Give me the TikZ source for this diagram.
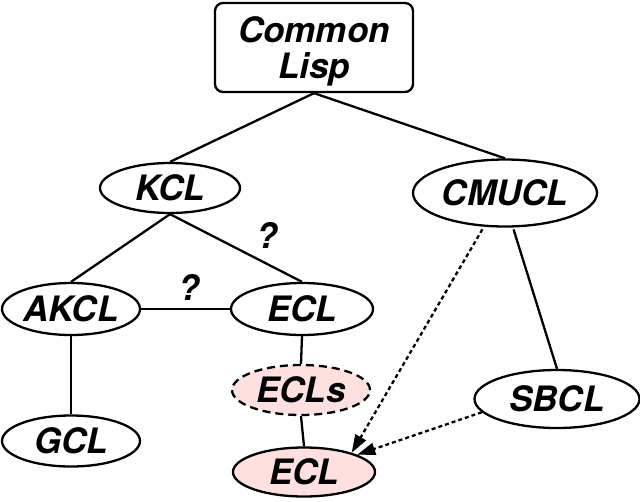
\documentclass[tikz,border=0pt]{standalone}
\usepackage{fontspec}
\setmainfont{TeX Gyre Heros}
\usetikzlibrary{arrows.meta,shapes.geometric}
\definecolor{pinkfill}{RGB}{255,224,224}
\tikzset{
  lbl/.style={font=\fontsize{35}{36}\selectfont\bfseries\itshape},
  ell/.style={lbl,draw,ellipse,line width=2.3pt,inner sep=0pt},
  ecltwo/.style={ell,fill=pinkfill},
  conn/.style={line width=2.3pt},
  dep/.style={line width=2.3pt,dash pattern=on 4pt off 3pt,-{Triangle[length=18pt,width=12pt]}},
  qm/.style={lbl,inner sep=0pt}
}
\begin{document}
\begin{tikzpicture}[x=1pt,y=-1pt]
\useasboundingbox (0,0) rectangle (640,501);
\node[lbl,draw,line width=2.3pt,rounded corners=8pt,minimum width=198pt,minimum height=89pt,align=center,inner sep=0pt,text depth=0pt] (cl) at (314,47.5) {Common\\Lisp};
\node[ell,minimum width=140pt,minimum height=50pt] (kcl) at (170,188) {KCL};
\node[ell,minimum width=184pt,minimum height=67pt] (cmucl) at (505,193) {CMUCL};
\node[ell,minimum width=138pt,minimum height=52pt] (akcl) at (71,309) {AKCL};
\node[ell,minimum width=142pt,minimum height=52pt] (ecl) at (302,309) {ECL};
\node[ell,fill=pinkfill,dash pattern=on 8pt off 5pt,minimum width=138pt,minimum height=50pt] (ecls) at (301,390) {ECLs};
\node[ell,minimum width=138pt,minimum height=51pt] (gcl) at (71,441) {GCL};
\node[ecltwo,minimum width=142pt,minimum height=49pt] (ecl2) at (304,472) {ECL};
\node[ell,minimum width=165pt,minimum height=58pt] (sbcl) at (557,399) {SBCL};
\node[qm] (q1) at (267,235) {?};
\node[qm] (q2) at (189,287) {?};
\draw[conn] (cl.south) -- (kcl.north);
\draw[conn] (cl.south) -- (cmucl.north);
\draw[conn] (kcl.south) -- (akcl.north);
\draw[conn] (kcl.south) -- (ecl.north);
\draw[conn] (akcl.east) -- (ecl.west);
\draw[conn] (akcl.south) -- (gcl.north);
\draw[conn] (ecl.south) -- (ecls.north);
\draw[conn] (ecls.south) -- (ecl2.north);
\draw[conn,shorten <=2pt] (cmucl.-77) -- (sbcl.north);
\draw[dep,shorten <=3pt] (cmucl.-122) -- (ecl2.22);
\draw[dep] (sbcl.190) -- (ecl2.18);
\end{tikzpicture}
\end{document}
